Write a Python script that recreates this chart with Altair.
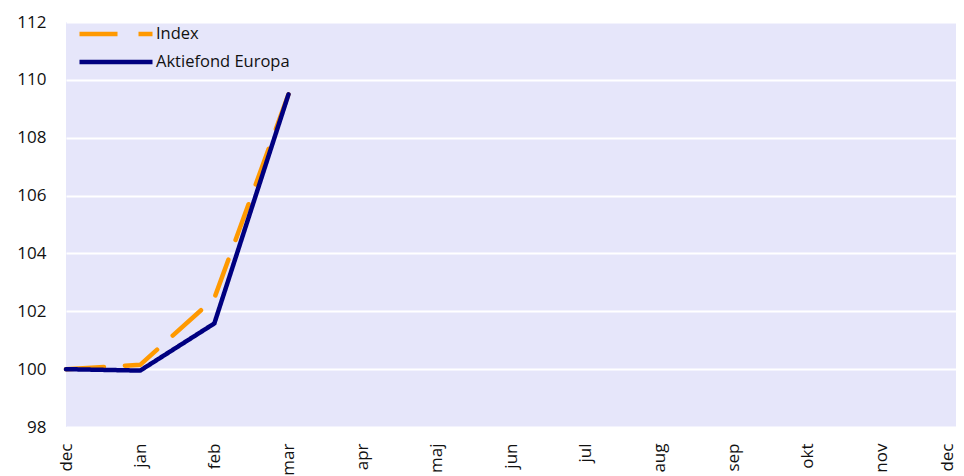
import altair as alt
import pandas as pd

months = ["dec", "jan", "feb", "mar", "apr", "maj", "jun", "jul", "aug", "sep", "okt", "nov", "dec"]
index_vals = [100.0, 100.15, 102.45, 109.5]
fund_vals = [100.0, 99.95, 101.58, 109.5]
series_names = ["Index", "Aktiefond Europa"]

rows = []
for i, v in enumerate(index_vals):
    rows.append({"pos": i, "value": v, "series": "Index"})
for i, v in enumerate(fund_vals):
    rows.append({"pos": i, "value": v, "series": "Aktiefond Europa"})
df = pd.DataFrame(rows)

label_expr = "[" + ",".join(f"'{m}'" for m in months) + "][datum.value]"

x = alt.X("pos:Q", scale=alt.Scale(domain=[0, 12], nice=False, zero=False),
          axis=alt.Axis(values=list(range(13)), labelExpr=label_expr, labelAngle=270,
                        grid=False, domain=False, ticks=False, labelPadding=16,
                        labelOffset={"condition": {"test": "datum.value == 12", "value": -9}, "value": 0},
                        labelFontSize=17, labelColor="#111", title=None))
y = alt.Y("value:Q", scale=alt.Scale(domain=[98, 112], nice=False, zero=False),
          axis=alt.Axis(values=list(range(98, 113, 2)), grid=True, gridColor="white",
                        gridWidth=2, domain=False, ticks=False, labelPadding=20,
                        labelFontSize=17, labelColor="#111", title=None))
color = alt.Color("series:N", scale=alt.Scale(domain=series_names, range=["#FF9900", "#000080"]),
                  legend=alt.Legend(title=None, orient="none", legendX=11, legendY=2,
                                    symbolType="stroke", symbolSize=5329, symbolStrokeWidth=4.5,
                                    clipHeight=20, rowPadding=8, labelFontSize=16.5,
                                    labelColor="#111", labelOffset=1, padding=0))
dash = alt.StrokeDash("series:N", scale=alt.Scale(domain=series_names, range=[[38, 21], [1, 0]]),
                      legend=None)

base = alt.Chart(df).encode(x=x, y=y, color=color, strokeDash=dash)
idx = base.transform_filter(alt.datum.series == "Index").mark_line(strokeWidth=4.5, strokeCap="round")
fund = base.transform_filter(alt.datum.series == "Aktiefond Europa").mark_line(strokeWidth=4.5, strokeCap="round")

chart = alt.layer(idx, fund).properties(
    width=890, height=405,
    autosize=alt.AutoSizeParams(type="none"),
    padding={"left": 58, "top": 14, "right": 0, "bottom": 60},
    background="white",
).configure_view(fill="#E6E6FA", stroke=None).configure_axis(labelFont="Open Sans").configure_legend(labelFont="Open Sans")

chart.save("out.html", embed_options={"renderer": "svg", "actions": False})
